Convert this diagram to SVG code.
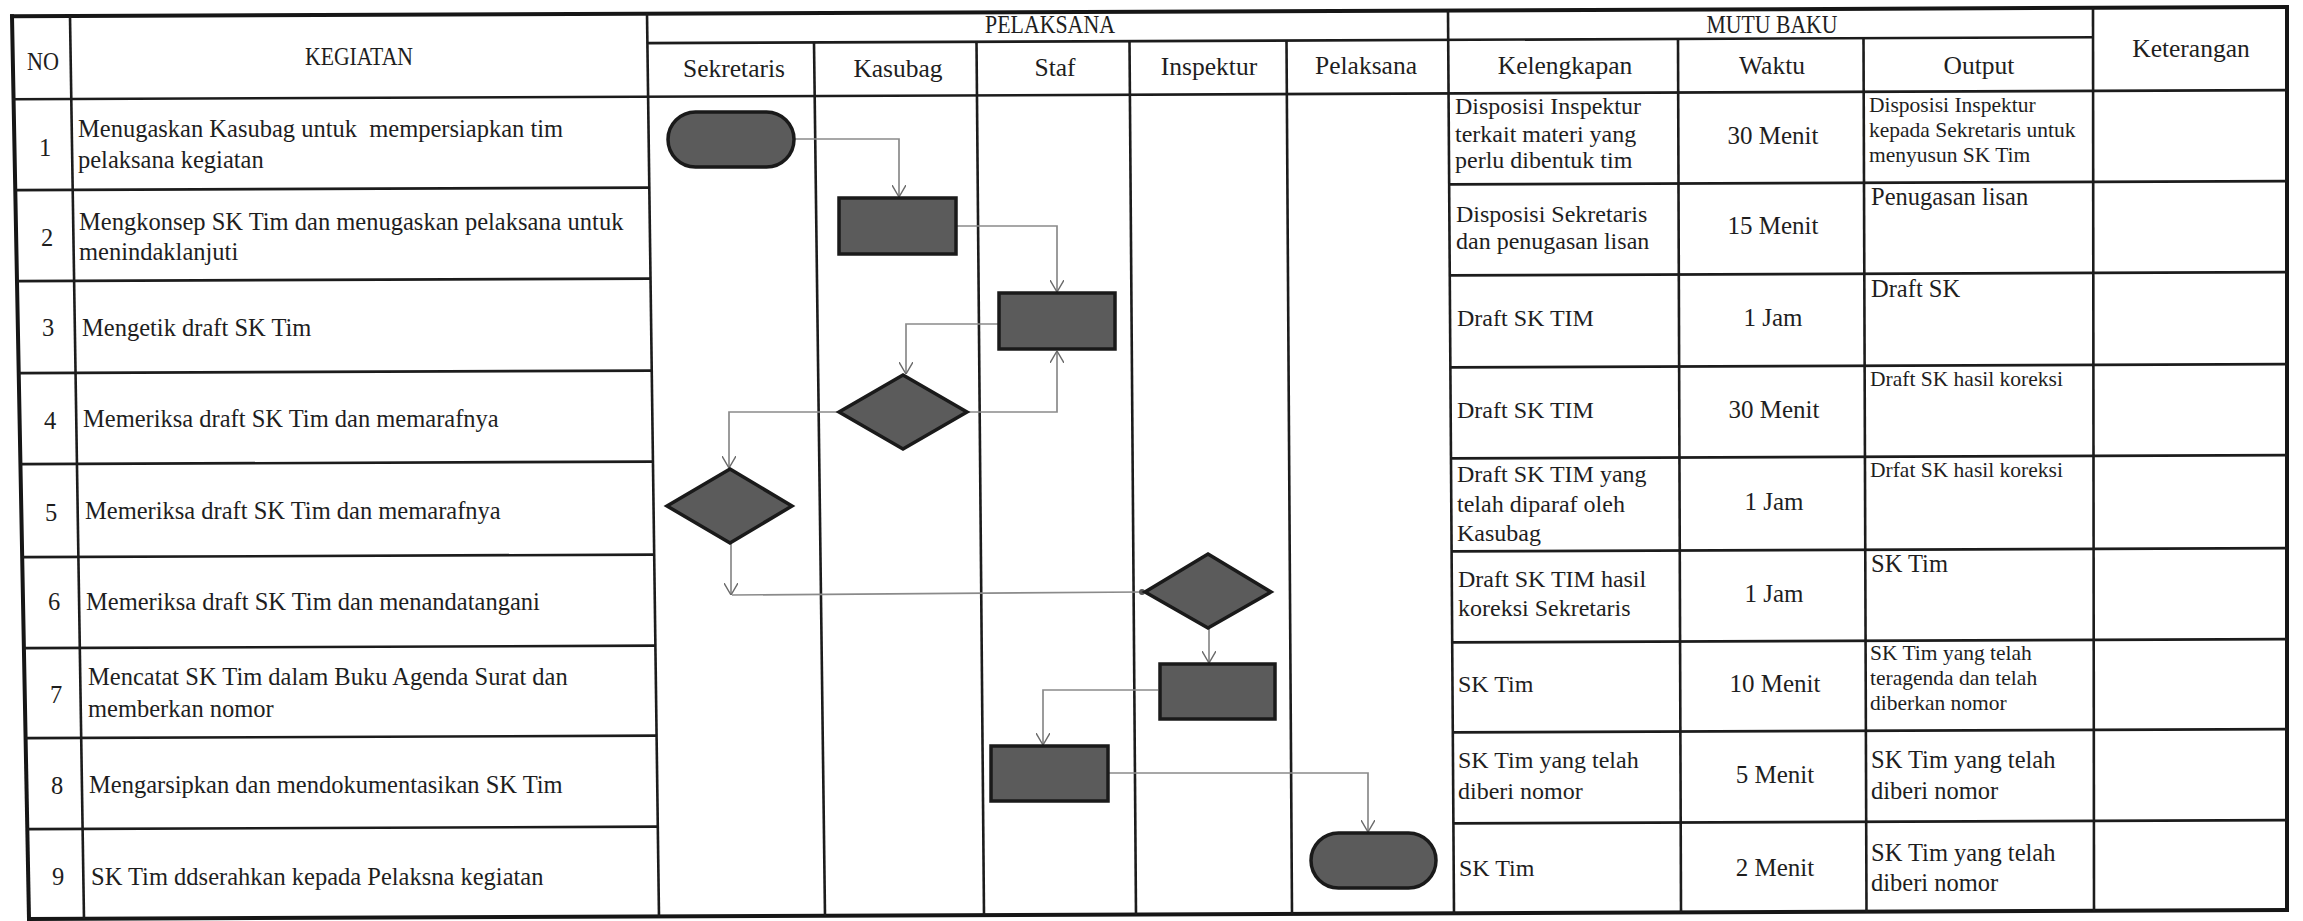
<svg xmlns="http://www.w3.org/2000/svg" width="2303" height="921" viewBox="0 0 2303 921">
<style>
.bd{stroke:#161616;stroke-width:4;fill:none;stroke-linecap:square}
.ln{stroke:#1c1c1c;stroke-width:2.6;fill:none}
.t{font-family:"Liberation Serif","Times New Roman",serif;fill:#1e1e1e}
.h{font-size:24.5px;text-anchor:middle}
.lh{font-size:25.5px;text-anchor:middle}
.k{font-size:24.5px}
.c{font-size:24.5px;text-anchor:middle}
.r{font-size:24px}
.w{font-size:25px;text-anchor:middle}
.o{font-size:24.5px}
.os{font-size:21.5px}
.shape{fill:#5b5b5b;stroke:#1a1a1a;stroke-width:3.5}
.con{fill:none;stroke:#8a8a8a;stroke-width:1.7}
</style>
<defs>
<marker id="arr" viewBox="0 0 12 14" refX="12" refY="7" markerWidth="12" markerHeight="14" markerUnits="userSpaceOnUse" orient="auto">
<path d="M0,0 L12,7 L0,14" fill="none" stroke="#6a6a6a" stroke-width="1.4"/>
</marker>
</defs>
<rect width="2303" height="921" fill="#ffffff"/>

<g id="table">
<line class="bd" x1="12" y1="16.2" x2="2287" y2="7.1"/>
<line class="bd" x1="12" y1="16.2" x2="29" y2="919"/>
<line class="bd" x1="2287" y1="7.1" x2="2287" y2="910"/>
<line class="bd" x1="29" y1="919" x2="2287" y2="910"/>
<line class="ln" x1="647" y1="43.1" x2="2093" y2="37.3"/>
<line class="ln" x1="12" y1="99.2" x2="2287" y2="90.1"/>
<line class="ln" x1="70" y1="15.9" x2="84" y2="919"/>
<line class="ln" x1="647" y1="13.6" x2="659" y2="917.6"/>
<line class="ln" x1="814" y1="42.4" x2="825" y2="916"/>
<line class="ln" x1="976.5" y1="41.8" x2="984" y2="915.3"/>
<line class="ln" x1="1129.5" y1="41.2" x2="1136" y2="914.7"/>
<line class="ln" x1="1286.5" y1="40.6" x2="1292" y2="914.1"/>
<line class="ln" x1="1448" y1="10.4" x2="1454" y2="913.4"/>
<line class="ln" x1="1678" y1="39" x2="1681" y2="912.5"/>
<line class="ln" x1="1863.5" y1="38.2" x2="1866.5" y2="911.8"/>
<line class="ln" x1="2093" y1="7.8" x2="2094" y2="910.8"/>
<line class="ln" x1="15.3" y1="190.1" x2="649.3" y2="187.6"/>
<line class="ln" x1="17" y1="281.1" x2="650.5" y2="278.6"/>
<line class="ln" x1="18.7" y1="373.1" x2="651.8" y2="370.6"/>
<line class="ln" x1="20.4" y1="464.1" x2="653" y2="461.6"/>
<line class="ln" x1="22.2" y1="557.1" x2="654.2" y2="554.6"/>
<line class="ln" x1="23.9" y1="648.1" x2="655.4" y2="645.6"/>
<line class="ln" x1="25.6" y1="738.1" x2="656.6" y2="735.6"/>
<line class="ln" x1="27.3" y1="829.1" x2="657.8" y2="826.6"/>
<line class="ln" x1="1449.2" y1="184.4" x2="2287" y2="181.1"/>
<line class="ln" x1="1449.8" y1="275.4" x2="2287" y2="272.1"/>
<line class="ln" x1="1450.4" y1="367.4" x2="2287" y2="364.1"/>
<line class="ln" x1="1451" y1="458.4" x2="2287" y2="455.1"/>
<line class="ln" x1="1451.6" y1="551.4" x2="2287" y2="548.1"/>
<line class="ln" x1="1452.2" y1="642.4" x2="2287" y2="639.1"/>
<line class="ln" x1="1452.8" y1="732.4" x2="2287" y2="729.1"/>
<line class="ln" x1="1453.4" y1="823.4" x2="2287" y2="820.1"/>
</g>

<g id="headers">
<text class="t h" x="43" y="70" textLength="32" lengthAdjust="spacingAndGlyphs">NO</text>
<text class="t h" x="359" y="65" textLength="108" lengthAdjust="spacingAndGlyphs">KEGIATAN</text>
<text class="t h" x="1050" y="33" textLength="130" lengthAdjust="spacingAndGlyphs">PELAKSANA</text>
<text class="t lh" x="734" y="77">Sekretaris</text>
<text class="t lh" x="898" y="77">Kasubag</text>
<text class="t lh" x="1055" y="76">Staf</text>
<text class="t lh" x="1209" y="75">Inspektur</text>
<text class="t lh" x="1366" y="74">Pelaksana</text>
<text class="t h" x="1772" y="33" textLength="131" lengthAdjust="spacingAndGlyphs">MUTU BAKU</text>
<text class="t lh" x="1565" y="74">Kelengkapan</text>
<text class="t lh" x="1772" y="73.5">Waktu</text>
<text class="t lh" x="1979" y="74">Output</text>
<text class="t lh" x="2191" y="57">Keterangan</text>
</g>

<g id="rows-no">
<text class="t c" x="45" y="156">1</text>
<text class="t c" x="47" y="246">2</text>
<text class="t c" x="48" y="336">3</text>
<text class="t c" x="50" y="429">4</text>
<text class="t c" x="51" y="521">5</text>
<text class="t c" x="54" y="610">6</text>
<text class="t c" x="56" y="703">7</text>
<text class="t c" x="57" y="794">8</text>
<text class="t c" x="58" y="885">9</text>
</g>

<g id="rows-kegiatan">
<text class="t k" x="78" y="137" xml:space="preserve">Menugaskan Kasubag untuk  mempersiapkan tim</text>
<text class="t k" x="78" y="168">pelaksana kegiatan</text>
<text class="t k" x="79" y="230">Mengkonsep SK Tim dan menugaskan pelaksana untuk</text>
<text class="t k" x="79" y="260">menindaklanjuti</text>
<text class="t k" x="82" y="336">Mengetik draft SK Tim</text>
<text class="t k" x="83" y="427">Memeriksa draft SK Tim dan memarafnya</text>
<text class="t k" x="85" y="519">Memeriksa draft SK Tim dan memarafnya</text>
<text class="t k" x="86" y="610">Memeriksa draft SK Tim dan menandatangani</text>
<text class="t k" x="88" y="685">Mencatat SK Tim dalam Buku Agenda Surat dan</text>
<text class="t k" x="88" y="717">memberkan nomor</text>
<text class="t k" x="89" y="793">Mengarsipkan dan mendokumentasikan SK Tim</text>
<text class="t k" x="91" y="885">SK Tim ddserahkan kepada Pelaksna kegiatan</text>
</g>

<g id="rows-kelengkapan">
<text class="t r" x="1455" y="114">Disposisi Inspektur</text>
<text class="t r" x="1455" y="142">terkait materi yang</text>
<text class="t r" x="1455" y="168">perlu dibentuk tim</text>
<text class="t r" x="1456" y="222">Disposisi Sekretaris</text>
<text class="t r" x="1456" y="249">dan penugasan lisan</text>
<text class="t r" x="1457" y="326">Draft SK TIM</text>
<text class="t r" x="1457" y="418">Draft SK TIM</text>
<text class="t r" x="1457" y="482">Draft SK TIM yang</text>
<text class="t r" x="1457" y="512">telah diparaf oleh</text>
<text class="t r" x="1457" y="541">Kasubag</text>
<text class="t r" x="1458" y="587">Draft SK TIM hasil</text>
<text class="t r" x="1458" y="616">koreksi Sekretaris</text>
<text class="t r" x="1458" y="692">SK Tim</text>
<text class="t r" x="1458" y="768">SK Tim yang telah</text>
<text class="t r" x="1458" y="799">diberi nomor</text>
<text class="t r" x="1459" y="876">SK Tim</text>
</g>

<g id="rows-waktu">
<text class="t w" x="1773" y="144">30 Menit</text>
<text class="t w" x="1773" y="234">15 Menit</text>
<text class="t w" x="1773" y="326">1 Jam</text>
<text class="t w" x="1774" y="418">30 Menit</text>
<text class="t w" x="1774" y="510">1 Jam</text>
<text class="t w" x="1774" y="602">1 Jam</text>
<text class="t w" x="1775" y="692">10 Menit</text>
<text class="t w" x="1775" y="783">5 Menit</text>
<text class="t w" x="1775" y="876">2 Menit</text>
</g>

<g id="rows-output">
<text class="t os" x="1869" y="112">Disposisi Inspektur</text>
<text class="t os" x="1869" y="137">kepada Sekretaris untuk</text>
<text class="t os" x="1869" y="162">menyusun SK Tim</text>
<text class="t o" x="1871" y="205">Penugasan lisan</text>
<text class="t o" x="1871" y="297">Draft SK</text>
<text class="t os" x="1870" y="386">Draft SK hasil koreksi</text>
<text class="t os" x="1870" y="477">Drfat SK hasil koreksi</text>
<text class="t o" x="1871" y="572">SK Tim</text>
<text class="t os" x="1870" y="660">SK Tim yang telah</text>
<text class="t os" x="1870" y="685">teragenda dan telah</text>
<text class="t os" x="1870" y="710">diberkan nomor</text>
<text class="t o" x="1871" y="768">SK Tim yang telah</text>
<text class="t o" x="1871" y="799">diberi nomor</text>
<text class="t o" x="1871" y="861">SK Tim yang telah</text>
<text class="t o" x="1871" y="891">diberi nomor</text>
</g>

<g id="connectors">
<path class="con" d="M794,139 H899 V197" marker-end="url(#arr)"/>
<path class="con" d="M956,226 H1057 V292" marker-end="url(#arr)"/>
<path class="con" d="M999,324 H906 V374" marker-end="url(#arr)"/>
<path class="con" d="M967,412 H1057 V351" marker-end="url(#arr)"/>
<path class="con" d="M839,412 H729 V468" marker-end="url(#arr)"/>
<path class="con" d="M731,543 V595" marker-end="url(#arr)"/>
<path class="con" d="M732,595 L1142,592"/>
<circle cx="1142" cy="592" r="3" fill="#555"/>
<path class="con" d="M1209,628 V663" marker-end="url(#arr)"/>
<path class="con" d="M1158,690 H1043 V745" marker-end="url(#arr)"/>
<path class="con" d="M1108,773 H1368 V832" marker-end="url(#arr)"/>
</g>

<g id="n1-start"><rect class="shape" x="668" y="112" width="126" height="55" rx="27.5"/></g>
<g id="n2-kasubag-konsep"><rect class="shape" x="839" y="198" width="117" height="56"/></g>
<g id="n3-staf-ketik"><rect class="shape" x="999" y="293" width="116" height="56"/></g>
<g id="n4-kasubag-periksa"><polygon class="shape" points="903,375 967,412 903,449 839,412"/></g>
<g id="n5-sekretaris-periksa"><polygon class="shape" points="730,469 792,506 730,543 667,506"/></g>
<g id="n6-inspektur-ttd"><polygon class="shape" points="1208,554 1271,592 1208,628 1145,592"/></g>
<g id="n7-inspektur-catat"><rect class="shape" x="1160" y="664" width="115" height="55"/></g>
<g id="n8-staf-arsip"><rect class="shape" x="991" y="746" width="117" height="55"/></g>
<g id="n9-end"><rect class="shape" x="1311" y="833" width="125" height="55" rx="27.5"/></g>
</svg>
